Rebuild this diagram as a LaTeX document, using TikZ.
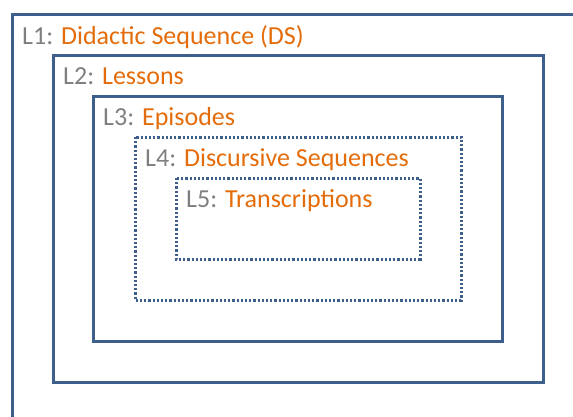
\documentclass[tikz,border=0pt]{standalone}
\usepackage{fontspec}
\setmainfont{Carlito}
\definecolor{boxblue}{RGB}{62,94,140}
\definecolor{lblgray}{RGB}{127,127,127}
\definecolor{lblorange}{RGB}{228,108,10}
\begin{document}
\begin{tikzpicture}[x=1pt,y=-1pt,
  solidbox/.style={draw=boxblue,line width=3pt},
  dotbox/.style={draw=boxblue,line width=3pt,dash pattern=on 2.2pt off 2pt},
  lbl/.style={anchor=base west,inner sep=0pt,font=\fontsize{26}{30}\selectfont}]
\useasboundingbox (0,0) rectangle (573,416);
\clip (0,0) rectangle (573,416);
\draw[solidbox] (12,14) rectangle (590,430);
\draw[solidbox] (53,55) rectangle (543,382);
\draw[solidbox] (93,96) rectangle (502,341);
\draw[dotbox] (135,137) rectangle (461,300);
\draw[dotbox] (176,178) rectangle (420,259);
\node[lbl] (l1) at (22,44) {\textcolor{lblgray}{L1:} \textcolor{lblorange}{Didactic Sequence (DS)}};
\node[lbl] (l2) at (63,84) {\textcolor{lblgray}{L2:} \textcolor{lblorange}{Lessons}};
\node[lbl] (l3) at (103,125) {\textcolor{lblgray}{L3:} \textcolor{lblorange}{Episodes}};
\node[lbl] (l4) at (145,166) {\textcolor{lblgray}{L4:} \textcolor{lblorange}{Discursive Sequences}};
\node[lbl] (l5) at (186,207) {\textcolor{lblgray}{L5:} \textcolor{lblorange}{Transcriptions}};
\end{tikzpicture}
\end{document}
